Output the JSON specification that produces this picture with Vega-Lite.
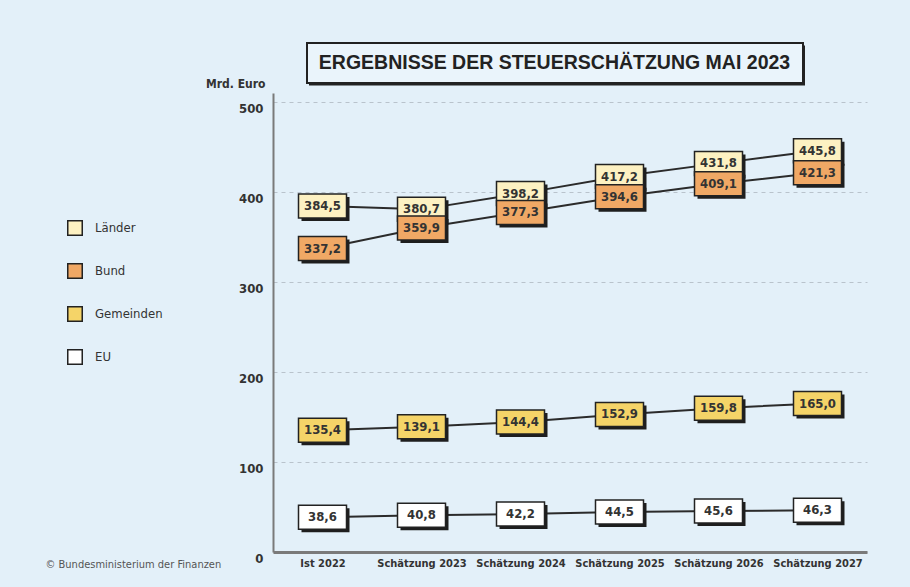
{
  "$schema": "https://vega.github.io/schema/vega-lite/v6.json",
  "width": 594,
  "height": 459,
  "autosize": {"type": "none"},
  "padding": {"left": 273, "top": 93, "right": 43, "bottom": 35},
  "background": "#e3f0f9",
  "config": {
    "view": {"stroke": null},
    "locale": {"number": {"decimal": ",", "thousands": ".", "grouping": [3], "currency": ["", " €"]}},
    "axisY": {
      "domainColor": "#7a7a7a", "domainWidth": 2, "ticks": false,
      "labelFont": "Liberation Sans Narrow, DejaVu Sans Condensed, Roboto", "labelFontSize": 13, "labelFontWeight": "bold", "labelColor": "#333333",
      "labelPadding": 10, "labelOffset": 6,
      "gridColor": "#b9c3cc", "gridDash": [4, 4], "gridWidth": 1,
      "titleAngle": 0, "titleAlign": "right", "titleBaseline": "middle", "titleX": -8, "titleY": -10,
      "titleFont": "Liberation Sans Narrow, DejaVu Sans Condensed, Roboto", "titleFontSize": 12, "titleFontWeight": "bold", "titleColor": "#333333"
    },
    "axisX": {
      "domainColor": "#7a7a7a", "domainWidth": 3, "ticks": false, "grid": false,
      "labelFont": "Liberation Sans Narrow, DejaVu Sans Condensed, Roboto", "labelFontSize": 11, "labelFontWeight": "bold", "labelColor": "#333333",
      "labelPadding": 5, "labelAngle": 0
    },
    "legend": {
      "orient": "none", "legendX": -206, "legendY": 127, "padding": 0,
      "symbolType": "square", "symbolSize": 210, "symbolStrokeColor": "#222222", "symbolStrokeWidth": 1.5, "symbolOpacity": 1,
      "labelFont": "Liberation Sans Narrow, DejaVu Sans Condensed, Roboto", "labelFontSize": 13, "labelColor": "#333333", "labelOffset": 12,
      "rowPadding": 21
    }
  },
  "datasets": {
    "werte": [
      {"jahr": "Ist 2022", "serie": "Länder", "wert": 384.5},
      {"jahr": "Schätzung 2023", "serie": "Länder", "wert": 380.7},
      {"jahr": "Schätzung 2024", "serie": "Länder", "wert": 398.2},
      {"jahr": "Schätzung 2025", "serie": "Länder", "wert": 417.2},
      {"jahr": "Schätzung 2026", "serie": "Länder", "wert": 431.8},
      {"jahr": "Schätzung 2027", "serie": "Länder", "wert": 445.8},
      {"jahr": "Ist 2022", "serie": "Bund", "wert": 337.2},
      {"jahr": "Schätzung 2023", "serie": "Bund", "wert": 359.9},
      {"jahr": "Schätzung 2024", "serie": "Bund", "wert": 377.3},
      {"jahr": "Schätzung 2025", "serie": "Bund", "wert": 394.6},
      {"jahr": "Schätzung 2026", "serie": "Bund", "wert": 409.1},
      {"jahr": "Schätzung 2027", "serie": "Bund", "wert": 421.3},
      {"jahr": "Ist 2022", "serie": "Gemeinden", "wert": 135.4},
      {"jahr": "Schätzung 2023", "serie": "Gemeinden", "wert": 139.1},
      {"jahr": "Schätzung 2024", "serie": "Gemeinden", "wert": 144.4},
      {"jahr": "Schätzung 2025", "serie": "Gemeinden", "wert": 152.9},
      {"jahr": "Schätzung 2026", "serie": "Gemeinden", "wert": 159.8},
      {"jahr": "Schätzung 2027", "serie": "Gemeinden", "wert": 165.0},
      {"jahr": "Ist 2022", "serie": "EU", "wert": 38.6},
      {"jahr": "Schätzung 2023", "serie": "EU", "wert": 40.8},
      {"jahr": "Schätzung 2024", "serie": "EU", "wert": 42.2},
      {"jahr": "Schätzung 2025", "serie": "EU", "wert": 44.5},
      {"jahr": "Schätzung 2026", "serie": "EU", "wert": 45.6},
      {"jahr": "Schätzung 2027", "serie": "EU", "wert": 46.3}
    ],
    "deko": [
      {"titel": "ERGEBNISSE DER STEUERSCHÄTZUNG MAI 2023", "quelle": "© Bundesministerium der Finanzen"}
    ]
  },
  "layer": [
    {
      "data": {"name": "deko"},
      "mark": {"type": "rect", "fill": "#222222", "xOffset": -13.5, "x2Offset": -12.5, "yOffset": 2.5, "y2Offset": 2.5},
      "encoding": {
        "x": {"datum": "Ist 2022", "type": "ordinal", "title": null},
        "x2": {"datum": "Schätzung 2027"},
        "y": {"datum": 565.6, "type": "quantitative", "title": "Mrd. Euro"},
        "y2": {"datum": 521}
      }
    },
    {
      "data": {"name": "deko"},
      "mark": {"type": "rect", "fill": "#eaf4fb", "stroke": "#222222", "strokeWidth": 2, "xOffset": -15.5, "x2Offset": -14.5},
      "encoding": {
        "x": {"datum": "Ist 2022", "type": "ordinal", "title": null},
        "x2": {"datum": "Schätzung 2027"},
        "y": {"datum": 565.6, "type": "quantitative", "title": "Mrd. Euro"},
        "y2": {"datum": 521}
      }
    },
    {
      "data": {"name": "deko"},
      "mark": {"type": "text", "font": "Liberation Sans", "fontSize": 19.5, "fontWeight": "bold", "color": "#222222", "align": "center", "baseline": "middle", "dx": 34},
      "encoding": {
        "x": {"datum": "Schätzung 2024", "type": "ordinal", "title": null},
        "y": {"datum": 543.5, "type": "quantitative", "title": "Mrd. Euro"},
        "text": {"field": "titel"}
      }
    },
    {
      "data": {"name": "deko"},
      "mark": {"type": "text", "font": "Liberation Sans Narrow, DejaVu Sans Condensed, Roboto", "fontSize": 11, "color": "#555555", "align": "left", "baseline": "middle", "dx": -277},
      "encoding": {
        "x": {"datum": "Ist 2022", "type": "ordinal", "title": null},
        "y": {"datum": -14.4, "type": "quantitative", "title": "Mrd. Euro"},
        "text": {"field": "quelle"}
      }
    },
    {
      "data": {"name": "werte"},
      "mark": {"type": "line", "color": "#2b2b2b", "strokeWidth": 2},
      "encoding": {
        "x": {"field": "jahr", "type": "ordinal", "title": null,
              "scale": {"type": "point", "padding": 0.5, "domain": ["Ist 2022", "Schätzung 2023", "Schätzung 2024", "Schätzung 2025", "Schätzung 2026", "Schätzung 2027"]}},
        "y": {"field": "wert", "type": "quantitative", "title": "Mrd. Euro",
              "scale": {"domain": [0, 510], "nice": false, "zero": true},
              "axis": {"values": [0, 100, 200, 300, 400, 500], "format": "d", "grid": true}},
        "detail": {"field": "serie"}
      }
    },
    {
      "data": {"name": "werte"},
      "mark": {"type": "point", "shape": "M-1,-0.5L1,-0.5L1,0.5L-1,0.5Z", "size": 2304, "filled": true, "opacity": 1, "color": "#1e1e1e", "xOffset": 3, "yOffset": 3},
      "encoding": {
        "x": {"field": "jahr", "type": "ordinal", "title": null},
        "y": {"field": "wert", "type": "quantitative", "title": "Mrd. Euro"}
      }
    },
    {
      "data": {"name": "werte"},
      "mark": {"type": "point", "shape": "M-1,-0.5L1,-0.5L1,0.5L-1,0.5Z", "size": 2304, "filled": true, "opacity": 1, "stroke": "#222222", "strokeWidth": 1.5},
      "encoding": {
        "x": {"field": "jahr", "type": "ordinal", "title": null},
        "y": {"field": "wert", "type": "quantitative", "title": "Mrd. Euro"},
        "fill": {"field": "serie", "type": "nominal",
                 "scale": {"domain": ["Länder", "Bund", "Gemeinden", "EU"], "range": ["#fdf1c2", "#f0a865", "#f5d468", "#ffffff"]},
                 "legend": {"title": null}}
      }
    },
    {
      "data": {"name": "werte"},
      "mark": {"type": "text", "font": "Liberation Sans Narrow, DejaVu Sans Condensed, Roboto", "fontSize": 13, "fontWeight": "bold", "color": "#333333", "align": "center", "baseline": "middle"},
      "encoding": {
        "x": {"field": "jahr", "type": "ordinal", "title": null},
        "y": {"field": "wert", "type": "quantitative", "title": "Mrd. Euro"},
        "text": {"field": "wert", "type": "quantitative", "format": ".1f"}
      }
    }
  ]
}
